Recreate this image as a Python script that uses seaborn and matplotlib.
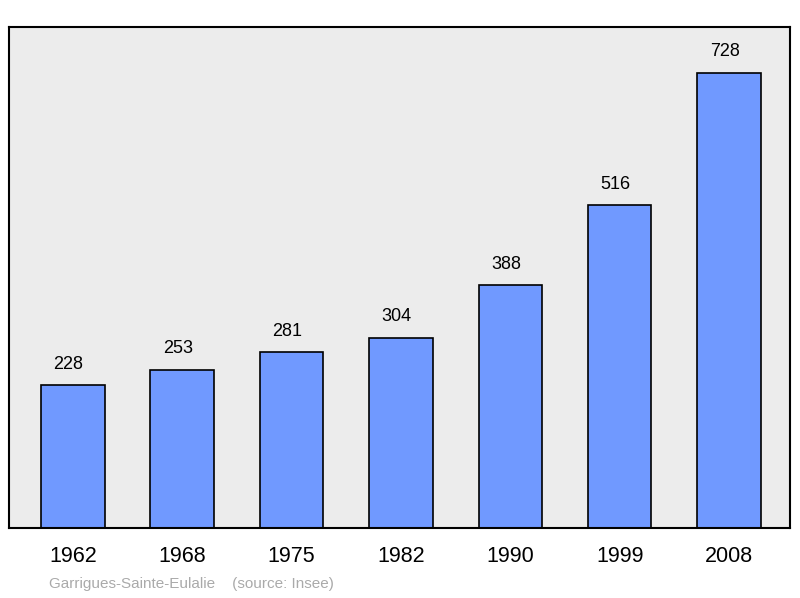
import matplotlib
matplotlib.use("Agg")
import matplotlib.pyplot as plt
import seaborn as sns
import pandas as pd

years = ["1962", "1968", "1975", "1982", "1990", "1999", "2008"]
population = [228, 253, 281, 304, 388, 516, 728]

df = pd.DataFrame({"year": years, "pop": population})

sns.set_style("white")
plt.rcParams['font.family'] = ['Liberation Sans', 'DejaVu Sans']

fig = plt.figure(figsize=(8, 5.98), dpi=100)
ax = fig.add_axes([0.011, 0.117, 0.977, 0.838])
ax.set_facecolor("#ececec")

sns.barplot(data=df, x="year", y="pop", color="#7099ff", width=0.58,
            edgecolor="black", linewidth=1.2, saturation=1, ax=ax)

for i, v in enumerate(population):
    ax.text(i - 0.04, v + 20, str(v), ha="center", va="bottom",
            fontsize=13, color="black")

ax.set_xlim(-0.585, 6.56)
ax.set_ylim(0, 801)
ax.set_yticks([])
ax.set_xlabel("")
ax.set_ylabel("")
ax.tick_params(axis="x", length=0, labelsize=15.5, pad=13, labelcolor="black")
for s in ax.spines.values():
    s.set_linewidth(1.5)
    s.set_color("black")

fig.text(0.061, 0.017, "Garrigues-Sainte-Eulalie    (source: Insee)",
         color="#aaaaaa", fontsize=11)

fig.savefig("out.png", dpi=100)
